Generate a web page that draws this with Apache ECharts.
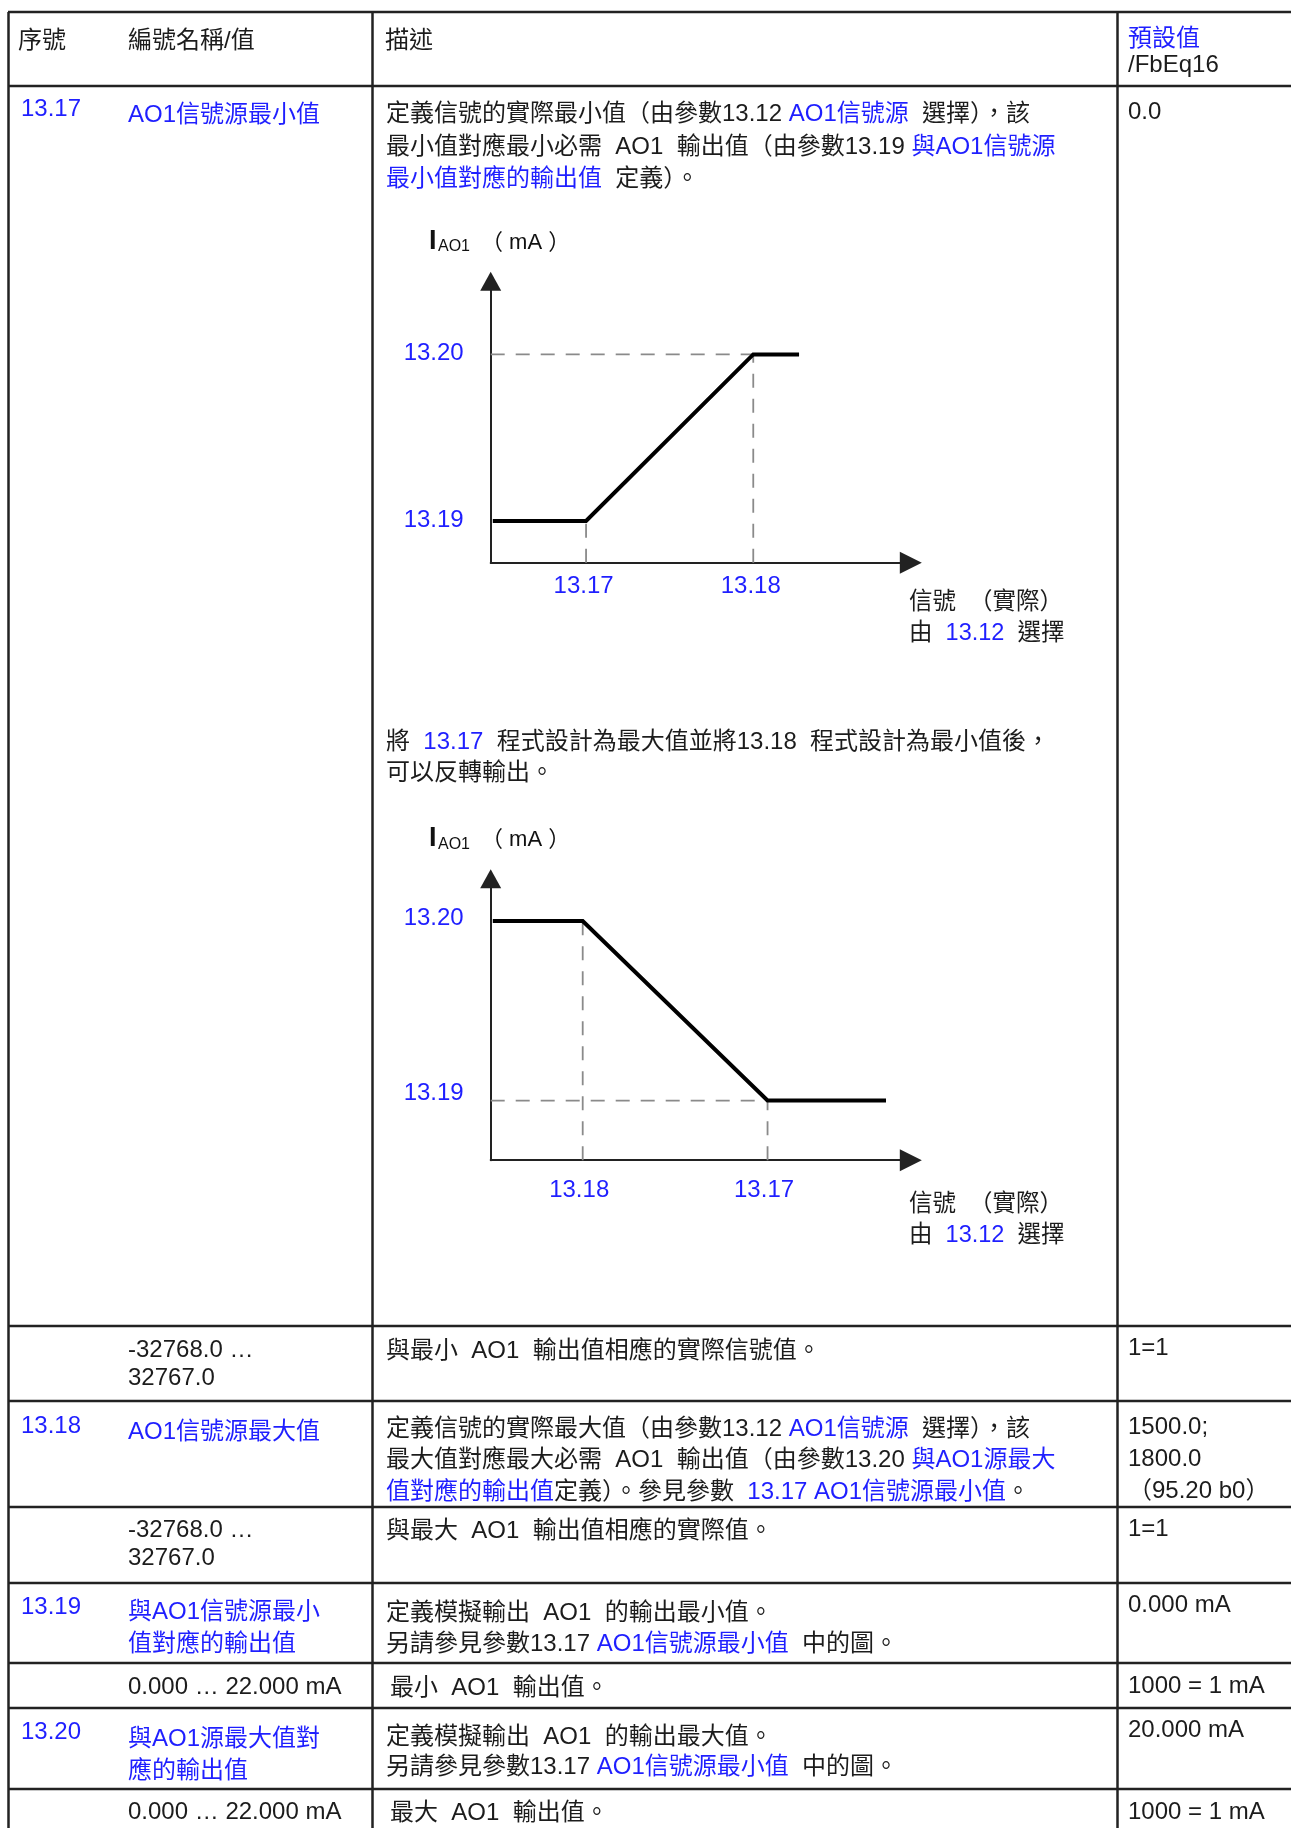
<!DOCTYPE html>
<html>
<head>
<meta charset="utf-8">
<script src="https://cdn.jsdelivr.net/npm/echarts@6/dist/echarts.min.js"></script>
<style>
  html, body { margin: 0; padding: 0; background: #fff; }
  #main { width: 1291px; height: 1828px; }
</style>
</head>
<body>
<div id="main"></div>
<script>
// 圖一：13.17 -> 13.18 正向
var upX = [0.5, 22.7, 62.5, 73.4];
var upY = [14.8, 14.8, 74.0, 74.0];
var upXTicks = [22.7, 62.5];
var upXNames = ['13.17', '13.18'];
var upYTicks = [14.8, 74.0];
var upYNames = ['13.19', '13.20'];

// 圖二：反轉輸出
var downX = [0.5, 21.9, 65.9, 94.1];
var downY = [85.0, 85.0, 21.2, 21.2];
var downXTicks = [21.9, 65.9];
var downXNames = ['13.18', '13.17'];
var downYTicks = [21.2, 85.0];
var downYNames = ['13.19', '13.20'];

// 表格文字
var headers = ['序號', '編號名稱/值', '描述'];
var paramIds = ['13.17', '13.18', '13.19', '13.20'];
var paramNames = [['AO1信號源最小值'], ['AO1信號源最大值'], ['與AO1信號源最小', '值對應的輸出值'], ['與AO1源最大值對', '應的輸出值']];
var defaults = [['0.0'], ['1500.0;', '1800.0', '（95.20 b0）'], ['0.000 mA'], ['20.000 mA']];
var ranges = [['-32768.0 …', '32767.0'], ['-32768.0 …', '32767.0'], ['0.000 … 22.000 mA'], ['0.000 … 22.000 mA']];
var rangeNotes = ['與最小  AO1  輸出值相應的實際信號值。', '與最大  AO1  輸出值相應的實際值。', '最小  AO1  輸出值。', '最大  AO1  輸出值。'];
var scales = ['1=1', '1=1', '1000 = 1 mA', '1000 = 1 mA'];
var descs = [
  [
    [['定義信號的實際最小值（由參數13.12 ', 0], ['AO1信號源', 1], ['  選擇），該', 0]],
    [['最小值對應最小必需  AO1  輸出值（由參數13.19 ', 0], ['與AO1信號源', 1]],
    [['最小值對應的輸出值', 1], ['  定義）。', 0]]
  ],
  [
    [['定義信號的實際最大值（由參數13.12 ', 0], ['AO1信號源', 1], ['  選擇），該', 0]],
    [['最大值對應最大必需  AO1  輸出值（由參數13.20 ', 0], ['與AO1源最大', 1]],
    [['值對應的輸出值', 1], ['定義）。參見參數  ', 0], ['13.17 AO1信號源最小值', 1], ['。', 0]]
  ],
  [
    [['定義模擬輸出  AO1  的輸出最小值。', 0]],
    [['另請參見參數13.17 ', 0], ['AO1信號源最小值', 1], ['  中的圖。', 0]]
  ],
  [
    [['定義模擬輸出  AO1  的輸出最大值。', 0]],
    [['另請參見參數13.17 ', 0], ['AO1信號源最小值', 1], ['  中的圖。', 0]]
  ]
];
var intro = [
  [['將  ', 0], ['13.17', 1], ['  程式設計為最大值並將13.18  程式設計為最小值後，', 0]],
  [['可以反轉輸出。', 0]]
];

var BLUE = '#1f1fff';
var INK = '#1c1c1c';
var FONT = '"Liberation Sans", "Noto Sans CJK TC", sans-serif';
var SIZE = 24;
var DY = 2.5;

// layout
var rowLines = [12, 86, 1326, 1401, 1507, 1583, 1663, 1708, 1789];
var colLines = [8.5, 372.5, 1117.5];
var idY = [107, 1424, 1605, 1730];
var nameY = [112.5, 1430, 1610, 1737];
var descY = [[112, 144.5, 177], [1427, 1458, 1490], [1611, 1642], [1735, 1765]];
var defY = [110, 1425, 1603, 1728];
var rangeY = [1348, 1528, 1685, 1810];
var noteX = [386, 386, 390, 390];
var scaleY = [1346, 1527, 1684, 1810];

function txt(x, y, s, color, size, weight) {
  return {
    type: 'text', x: x, y: y + DY, silent: true, z: 10,
    style: {
      text: s, fill: color || INK,
      font: (weight || 'normal') + ' ' + (size || SIZE) + 'px ' + FONT,
      textAlign: 'left', align: 'left',
      textVerticalAlign: 'middle', verticalAlign: 'middle'
    }
  };
}

function rich(x, y, parts, size) {
  var fs = size || SIZE;
  var s = parts.map(function (p) { return '{' + (p[1] ? 'b' : 'k') + '|' + p[0] + '}'; }).join('');
  return {
    type: 'text', x: x, y: y + DY, silent: true, z: 10,
    style: {
      text: s,
      font: fs + 'px ' + FONT,
      textAlign: 'left', align: 'left',
      textVerticalAlign: 'middle', verticalAlign: 'middle',
      rich: {
        k: { fill: INK, font: fs + 'px ' + FONT },
        b: { fill: BLUE, font: fs + 'px ' + FONT }
      }
    }
  };
}

var els = [];
rowLines.forEach(function (y) {
  els.push({ type: 'line', silent: true, shape: { x1: 8, y1: y, x2: 1291, y2: y }, style: { stroke: '#222', lineWidth: 2.5 } });
});
colLines.forEach(function (x) {
  els.push({ type: 'line', silent: true, shape: { x1: x, y1: 12, x2: x, y2: 1828 }, style: { stroke: '#222', lineWidth: 2.5 } });
});

// header
els.push(txt(18, 39, headers[0]));
els.push(txt(128, 39, headers[1]));
els.push(txt(385, 39, headers[2]));
els.push(txt(1128, 37, '預設值', BLUE));
els.push(txt(1128, 63, '/FbEq16'));

paramIds.forEach(function (id, i) {
  els.push(txt(21, idY[i], id, BLUE));
  paramNames[i].forEach(function (n, j) { els.push(txt(128, nameY[i] + j * 32, n, BLUE)); });
  descs[i].forEach(function (line, j) { els.push(rich(386, descY[i][j], line)); });
  defaults[i].forEach(function (d, j) { els.push(txt(1128, defY[i] + j * 32, d)); });
  ranges[i].forEach(function (r, j) { els.push(txt(128, rangeY[i] + j * 27.5, r)); });
  els.push(txt(noteX[i], rangeY[i] + 1, rangeNotes[i]));
  els.push(txt(1128, scaleY[i], scales[i]));
});

intro.forEach(function (line, j) { els.push(rich(386, 740 + j * 31, line)); });

// 軸標題
[0, 597.5].forEach(function (dy, k) {
  els.push(txt(429, 239 + dy, 'I', '#111', 27, 'bold'));
  els.push(txt(438, 244.5 + dy, 'AO1', '#111', 16));
  els.push(txt(481, 240 + dy, '（ mA ）', '#111', 22));
  var off = k ? 1202 : 600;
  els.push(txt(909, off, '信號  （實際）', INK, 23.5));
  els.push(rich(909, off + 31, [['由  ', 0], ['13.12', 1], ['  選擇', 0]], 23.5));
});

function pick(ticks, names) {
  return function (v) {
    var best = 0;
    ticks.forEach(function (t, i) { if (Math.abs(t - v) < Math.abs(ticks[best] - v)) best = i; });
    return names[best];
  };
}

// y 軸標籤略高於刻度位置
function pickRich(ticks, names) {
  return function (v) {
    var best = 0;
    ticks.forEach(function (t, i) { if (Math.abs(t - v) < Math.abs(ticks[best] - v)) best = i; });
    return '{l' + best + '|' + names[best] + '}';
  };
}

function axisX(gi, ticks, names, margin, padRight) {
  return {
    type: 'value', gridIndex: gi, min: 0, max: 100,
    axisLine: { show: true, onZero: false, symbol: ['none', 'triangle'], symbolSize: [22, 22], lineStyle: { color: '#222', width: 2 } },
    axisTick: { show: false },
    splitLine: { show: false },
    axisLabel: { customValues: ticks, formatter: pick(ticks, names), color: BLUE, fontSize: SIZE, fontFamily: FONT, margin: margin, padding: [0, padRight, 0, 0] }
  };
}

function axisY(gi, ticks, names, pads) {
  var richStyles = {};
  pads.forEach(function (p, i) {
    richStyles['l' + i] = { color: BLUE, fontSize: SIZE, fontFamily: FONT, padding: [0, 0, p, 0] };
  });
  return {
    type: 'value', gridIndex: gi, min: 0, max: 100,
    axisLine: { show: true, onZero: false, symbol: ['none', 'triangle'], symbolSize: [21, 19], lineStyle: { color: '#222', width: 2 } },
    axisTick: { show: false },
    splitLine: { show: false },
    axisLabel: { customValues: ticks, formatter: pickRich(ticks, names), color: BLUE, fontSize: SIZE, fontFamily: FONT, margin: 27, rich: richStyles }
  };
}

function pairs(xs, ys) {
  return xs.map(function (x, i) { return [x, ys[i]]; });
}

function guide(gi, data) {
  return {
    type: 'line', xAxisIndex: gi, yAxisIndex: gi, data: data, symbol: 'none', silent: true,
    lineStyle: { color: '#8a8a8a', width: 1.8, type: [14, 11] }, z: 2
  };
}

function curve(gi, data) {
  return {
    type: 'line', xAxisIndex: gi, yAxisIndex: gi, data: data, symbol: 'none', silent: true,
    lineStyle: { color: '#000', width: 4, join: 'miter' }, z: 3
  };
}

var myChart = echarts.init(document.getElementById('main'));
var option = {
  animation: false,
  grid: [
    { left: 490.7, top: 281.2, width: 420.1, height: 281.5, outerBoundsMode: 'none' },
    { left: 490.7, top: 878.8, width: 420.1, height: 281.4, outerBoundsMode: 'none' }
  ],
  xAxis: [axisX(0, upXTicks, upXNames, 12, 5), axisX(1, downXTicks, downXNames, 18, 7)],
  yAxis: [axisY(0, upYTicks, upYNames, [2, 2]), axisY(1, downYTicks, downYNames, [14, 6])],
  series: [
    guide(0, [[0, upY[2]], [upX[2], upY[2]]]),
    guide(0, [[upX[1], 0], [upX[1], upY[1]]]),
    guide(0, [[upX[2], 0], [upX[2], upY[2]]]),
    curve(0, pairs(upX, upY)),
    guide(1, [[0, downY[2]], [downX[2], downY[2]]]),
    guide(1, [[downX[1], 0], [downX[1], downY[1]]]),
    guide(1, [[downX[2], 0], [downX[2], downY[2]]]),
    curve(1, pairs(downX, downY))
  ],
  graphic: { elements: els }
};
option && myChart.setOption(option);
</script>
</body>
</html>
